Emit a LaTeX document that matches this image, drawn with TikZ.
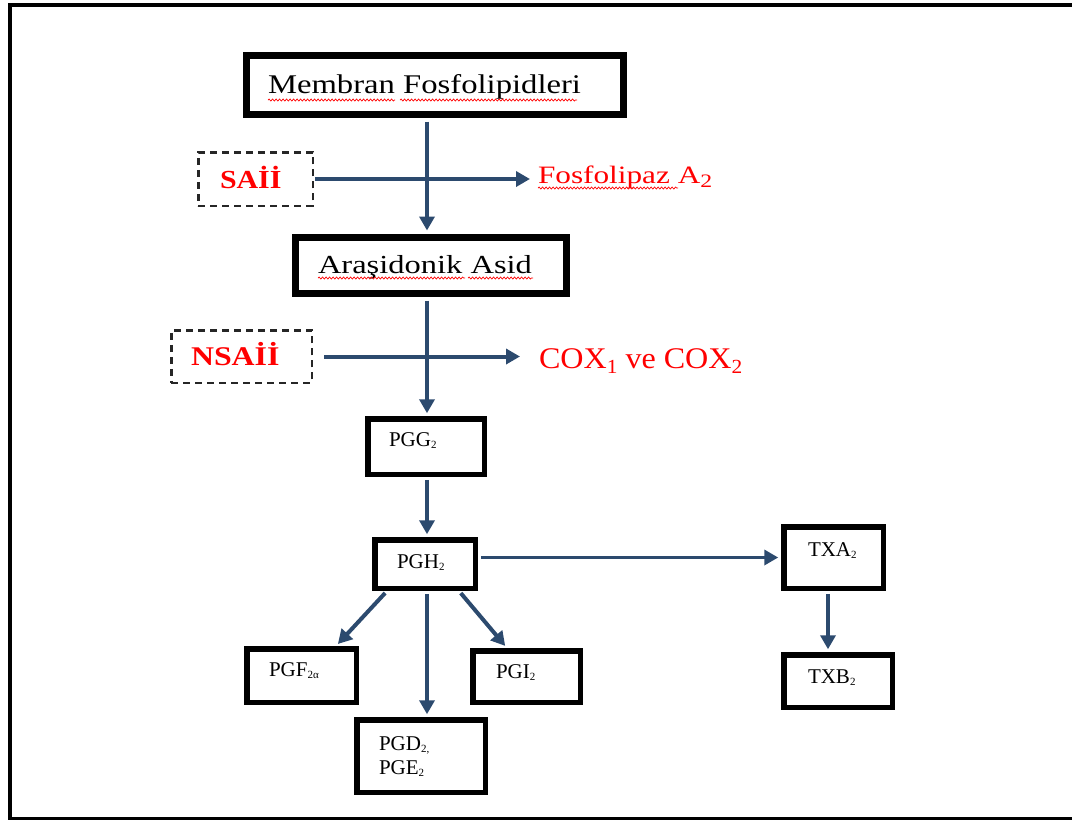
\documentclass[tikz,border=0pt]{standalone}
\usepackage{fontspec}
\setmainfont{Liberation Serif}
\usepackage{graphicx}
\usetikzlibrary{arrows.meta,decorations.pathmorphing}

\definecolor{flowblue}{HTML}{2C4A6E}
\newcommand\fs[1]{\fontsize{#1}{#1}\selectfont}
% lowered subscript: size, drop, text
\newcommand\lowsub[3]{\raisebox{-#2pt}{\fontsize{#1}{#1}\selectfont #3}}

\begin{document}
\begin{tikzpicture}[x=1pt,y=-1pt,
  bigbox/.style={draw=black, line width=7pt, inner sep=0pt},
  dashbox/.style={draw=black!85, line width=2.5pt, dash pattern=on 7pt off 5pt, inner sep=0pt},
  smallbox/.style={draw=black, line width=5.5pt, inner sep=0pt},
  flow/.style={draw=flowblue, line width=4pt, -{Triangle[length=14pt,width=15pt]}},
  lbl/.style={anchor=base west, inner sep=0pt, outer sep=0pt},
  spell/.style={draw=red, line width=0.7pt, decorate,
    decoration={snake, amplitude=1pt, segment length=3.5pt}}]
\clip (0,0) rectangle (1072,820);

% page frame (open on the right)
\draw[line width=4pt] (1090,5) -- (10,5) -- (10,819) -- (1090,819);

\coordinate (spine) at (427,0);

% boxes
\node[bigbox, minimum width=377pt, minimum height=59pt] (mem) at (435,85) {};
\node[bigbox, minimum width=271pt, minimum height=56pt] (ara) at (431,265.5) {};
\node[dashbox, minimum width=114.5pt, minimum height=53.5pt] (sai) at (255.5,179) {};
\node[dashbox, minimum width=140.5pt, minimum height=52.5pt] (nsai) at (241.5,356.5) {};
\node[smallbox, minimum width=116.5pt, minimum height=55.5pt] (pgg) at (426,446.5) {};
\node[smallbox, minimum width=100.5pt, minimum height=48.5pt] (pgh) at (425,564) {};
\node[smallbox, minimum width=99.5pt, minimum height=61.5pt] (txa) at (833.5,557.5) {};
\node[smallbox, minimum width=108.5pt, minimum height=52.5pt] (txb) at (838,681) {};
\node[smallbox, minimum width=109.5pt, minimum height=53.5pt] (pgf) at (301.5,675.5) {};
\node[smallbox, minimum width=107.5pt, minimum height=51.5pt] (pgi) at (526.5,676.5) {};
\node[smallbox, minimum width=128.5pt, minimum height=72.5pt] (pgd) at (421,756) {};

% labels
\node[lbl] (memt) at (268,93) {\fs{27}\scalebox{1.21}[1]{Membran Fosfolipidleri}};
\node[lbl, text=red] (sait) at (220,188) {\fs{26}\bfseries\scalebox{1.15}[1]{SAİİ}};
\node[lbl, text=red] (fos) at (538,183) {\fs{25}\scalebox{1.25}[1]{Fosfolipaz A\lowsub{19}{4}{2}}};
\node[lbl] (arat) at (318,273) {\fs{26}\scalebox{1.25}[1]{Araşidonik Asid}};
\node[lbl, text=red] (nsait) at (191,365) {\fs{27}\bfseries\scalebox{1.18}[1]{NSAİİ}};
\node[lbl, text=red] (cox) at (539,368) {\fs{30}\scalebox{1.07}[1]{COX\lowsub{20}{5}{1} ve COX\lowsub{20}{5}{2}}};
\node[lbl] (pggt) at (389,446) {\fs{21}PGG\lowsub{11}{2}{2}};
\node[lbl] (pght) at (397,568) {\fs{21}PGH\lowsub{11}{2}{2}};
\node[lbl] (txat) at (808,556) {\fs{21}TXA\lowsub{11}{2}{2}};
\node[lbl] (txbt) at (808,683) {\fs{21}TXB\lowsub{11}{2}{2}};
\node[lbl] (pgft) at (269,676) {\fs{21}PGF\lowsub{11}{2}{2α}};
\node[lbl] (pgit) at (496,678) {\fs{21}PGI\lowsub{11}{2}{2}};
\node[lbl] (pgdt) at (379,750) {\fs{21}PGD\lowsub{11}{2}{2,}};
\node[lbl] (pget) at (379,774) {\fs{21}PGE\lowsub{11}{2}{2}};

% spell-check underlines
\draw[spell] (268,100) -- (395,100);
\draw[spell] (400,100) -- (577,100);
\draw[spell] (318,278) -- (465,278);
\draw[spell] (468,278) -- (533,278);
\draw[spell] (538,188) -- (678,188);

% connectors
\draw[flow, shorten <=3.5pt, shorten >=3.5pt] (spine |- mem.south) -- (spine |- ara.north);
\draw[flow, shorten <=1.25pt, shorten >=8pt] (sai.east) -- (sai.east -| fos.west);
\draw[flow, shorten <=3.5pt, shorten >=2.75pt] (spine |- ara.south) -- (spine |- pgg.north);
\draw[flow, shorten <=11.25pt, shorten >=19pt] (nsai.east) -- (nsai.east -| cox.west);
\draw[flow, shorten <=2.75pt, shorten >=2.75pt] (spine |- pgg.south) -- (spine |- pgh.north);
\draw[flow, line width=3.5pt, shorten <=2.75pt, shorten >=2.75pt] (txa.west -| pgh.east) -- (txa.west);
\draw[flow, shorten <=2.75pt, shorten >=2.75pt] ([xshift=-5.5pt]txa.south) -- ([xshift=-5.5pt]txa.south |- txb.north);
\draw[flow, shorten <=2.75pt, shorten >=2.75pt] ([xshift=-38pt]pgh.south) -- ([xshift=34.5pt]pgf.north);
\draw[flow, shorten <=2.75pt, shorten >=2.75pt] (spine |- pgh.south) -- (spine |- pgd.north);
\draw[flow, shorten <=2.75pt, shorten >=2.75pt] ([xshift=34pt]pgh.south) -- ([xshift=-19.5pt]pgi.north);
\end{tikzpicture}
\end{document}
